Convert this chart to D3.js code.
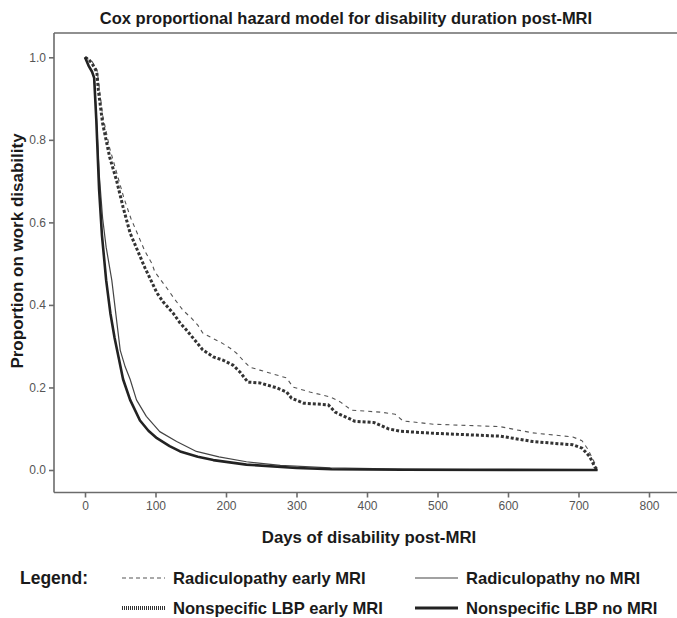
<!DOCTYPE html>
<html>
<head>
<meta charset="utf-8">
<script src="https://cdn.jsdelivr.net/npm/d3@7"></script>
<style>
  html, body { margin: 0; padding: 0; background: #fff; }
  svg { display: block; font-family: "Liberation Sans", Arial, Helvetica, sans-serif; }
</style>
</head>
<body>
<svg id="chart" width="677" height="618"></svg>
<script>
// ---- Data ----
const title = "Cox proportional hazard model for disability duration post-MRI";
const xLabel = "Days of disability post-MRI";
const yLabel = "Proportion on work disability";
const xTicks = [0, 100, 200, 300, 400, 500, 600, 700, 800];
const yTicks = [0.0, 0.2, 0.4, 0.6, 0.8, 1.0];

// Radiculopathy early MRI (thin dashed)
const radicEarlyDays = [0, 5, 10, 17, 20, 25, 35, 45, 55, 65, 75, 85, 95, 99, 116, 125, 139, 151, 160, 167, 180, 194, 206, 215, 224, 234, 248, 262, 286, 295, 319, 348, 362, 378, 420, 440, 451, 494, 589, 607, 635, 692, 705, 713, 723, 726];
const radicEarlyVals = [1.0, 0.995, 0.99, 0.97, 0.93, 0.86, 0.78, 0.72, 0.66, 0.61, 0.57, 0.53, 0.50, 0.48, 0.441, 0.419, 0.387, 0.368, 0.351, 0.332, 0.320, 0.308, 0.295, 0.283, 0.266, 0.249, 0.242, 0.235, 0.223, 0.201, 0.189, 0.177, 0.165, 0.145, 0.14, 0.135, 0.119, 0.111, 0.105, 0.099, 0.090, 0.080, 0.071, 0.051, 0.017, 0.0];

// Nonspecific LBP early MRI (thick dotted)
const lbpEarlyDays = [0, 5, 10, 15, 17, 19, 25, 35, 45, 54, 64, 75, 85, 92, 102, 111, 125, 135, 144, 158, 167, 182, 196, 210, 220, 231, 248, 272, 286, 293, 310, 345, 355, 383, 410, 430, 447, 494, 589, 607, 635, 692, 705, 716, 723, 727];
const lbpEarlyVals = [1.0, 0.995, 0.985, 0.97, 0.96, 0.92, 0.84, 0.758, 0.70, 0.637, 0.574, 0.53, 0.49, 0.465, 0.429, 0.407, 0.380, 0.356, 0.339, 0.310, 0.291, 0.274, 0.266, 0.254, 0.237, 0.213, 0.211, 0.199, 0.189, 0.174, 0.162, 0.158, 0.14, 0.118, 0.115, 0.10, 0.094, 0.089, 0.082, 0.077, 0.069, 0.061, 0.053, 0.032, 0.008, 0.0];

// Radiculopathy no MRI (thin solid)
const radicNoDays = [0, 5, 10, 13, 16, 20, 25, 30, 38, 45, 50, 57, 64, 73, 87, 106, 130, 158, 190, 229, 277, 348, 450, 600, 727];
const radicNoVals = [1.0, 0.98, 0.965, 0.95, 0.86, 0.72, 0.61, 0.54, 0.46, 0.36, 0.29, 0.25, 0.22, 0.17, 0.13, 0.093, 0.069, 0.045, 0.032, 0.020, 0.011, 0.005, 0.002, 0.0005, 0.0];

// Nonspecific LBP no MRI (thick solid)
const lbpNoDays = [0, 5, 10, 13, 16, 20, 24, 30, 36, 42, 48, 54, 64, 78, 90, 102, 120, 135, 160, 182, 229, 300, 350, 450, 727];
const lbpNoVals = [1.0, 0.98, 0.965, 0.95, 0.85, 0.68, 0.57, 0.46, 0.38, 0.32, 0.27, 0.22, 0.17, 0.12, 0.095, 0.077, 0.058, 0.045, 0.032, 0.024, 0.013, 0.005, 0.002, 0.0005, 0.0];

const seriesNames = ["Radiculopathy early MRI", "Radiculopathy no MRI", "Nonspecific LBP early MRI", "Nonspecific LBP no MRI"];

// ---- Build ----
const svg = d3.select("#chart");
const x = d3.scaleLinear().domain([0, 800]).range([85, 649]);
const y = d3.scaleLinear().domain([0, 1]).range([470, 57.3]);

const axisColor = "#6b6b6b";
const frameLeft = 54, frameTop = 33, frameBottom = 492.5, frameRight = 677;

// frame (top and left)
svg.append("line").attr("x1", frameLeft).attr("x2", frameRight).attr("y1", frameTop).attr("y2", frameTop)
  .attr("stroke", axisColor).attr("stroke-width", 1.6);

// Y axis
const yAxis = d3.axisLeft(y).tickValues(yTicks).tickFormat(d3.format(".1f")).tickSize(5).tickSizeOuter(0);
const gy = svg.append("g").attr("transform", `translate(${frameLeft},0)`).call(yAxis);
gy.select(".domain").remove();
gy.append("line").attr("x1", 0).attr("x2", 0).attr("y1", frameTop).attr("y2", frameBottom)
  .attr("stroke", axisColor).attr("stroke-width", 1.6);
gy.selectAll(".tick line").attr("stroke", axisColor).attr("stroke-width", 1.6);
gy.selectAll(".tick text").attr("fill", "#555").attr("font-size", 12).attr("x", -8)
  .attr("font-family", "'Liberation Sans', Arial, sans-serif");

// X axis
const xAxis = d3.axisBottom(x).tickValues(xTicks).tickFormat(d3.format("d")).tickSize(5).tickSizeOuter(0);
const gx = svg.append("g").attr("transform", `translate(0,${frameBottom})`).call(xAxis);
gx.select(".domain").remove();
gx.append("line").attr("x1", frameLeft).attr("x2", frameRight).attr("y1", 0).attr("y2", 0)
  .attr("stroke", axisColor).attr("stroke-width", 1.6);
gx.selectAll(".tick line").attr("stroke", axisColor).attr("stroke-width", 1.6);
gx.selectAll(".tick text").attr("fill", "#555").attr("font-size", 12).attr("y", 9)
  .attr("font-family", "'Liberation Sans', Arial, sans-serif");

// Title and axis labels
svg.append("text").attr("x", 346).attr("y", 24).attr("text-anchor", "middle")
  .attr("font-weight", "bold").attr("font-size", 16.5).attr("fill", "#1a1a1a").text(title);
svg.append("text").attr("x", 369).attr("y", 543).attr("text-anchor", "middle")
  .attr("font-weight", "bold").attr("font-size", 16.8).attr("fill", "#1a1a1a").text(xLabel);
svg.append("text").attr("transform", "translate(23,251) rotate(-90)").attr("text-anchor", "middle")
  .attr("font-weight", "bold").attr("font-size", 17).attr("fill", "#1a1a1a").text(yLabel);

// Line styles
const styles = [
  { days: radicEarlyDays, vals: radicEarlyVals, stroke: "#555", width: 1.1, dash: "4,4" },
  { days: radicNoDays, vals: radicNoVals, stroke: "#444", width: 1.2, dash: null },
  { days: lbpEarlyDays, vals: lbpEarlyVals, stroke: "#333", width: 3, dash: "3,2" },
  { days: lbpNoDays, vals: lbpNoVals, stroke: "#222", width: 2.6, dash: null }
];

const line = d3.line().x(d => x(d[0])).y(d => y(d[1])).curve(d3.curveLinear);
styles.forEach(s => {
  const pts = s.days.map((d, i) => [d, s.vals[i]]);
  const p = svg.append("path").datum(pts).attr("d", line)
    .attr("fill", "none").attr("stroke", s.stroke).attr("stroke-width", s.width)
    .attr("stroke-linejoin", "round");
  if (s.dash) p.attr("stroke-dasharray", s.dash);
});

// Legend
const lg = svg.append("g");
lg.append("text").attr("x", 20).attr("y", 584).attr("font-weight", "bold").attr("font-size", 17.5)
  .attr("fill", "#1a1a1a").text("Legend:");
const legendItems = [
  { name: seriesNames[0], lx: 122, ly: 578, s: styles[0], legDash: "4,3", w: 1.1 },
  { name: seriesNames[1], lx: 415, ly: 578, s: styles[1], legDash: null, w: 1.2 },
  { name: seriesNames[2], lx: 122, ly: 608, s: styles[2], legDash: "1,1", w: 4 },
  { name: seriesNames[3], lx: 415, ly: 608, s: styles[3], legDash: null, w: 3 }
];
legendItems.forEach(it => {
  const l = lg.append("line").attr("x1", it.lx).attr("x2", it.lx + 43).attr("y1", it.ly).attr("y2", it.ly)
    .attr("stroke", it.s.stroke).attr("stroke-width", it.w);
  if (it.legDash) l.attr("stroke-dasharray", it.legDash);
  lg.append("text").attr("x", it.lx + 51).attr("y", it.ly + 6).attr("font-weight", "bold")
    .attr("font-size", 16.6).attr("fill", "#1a1a1a").text(it.name);
});
</script>
</body>
</html>
